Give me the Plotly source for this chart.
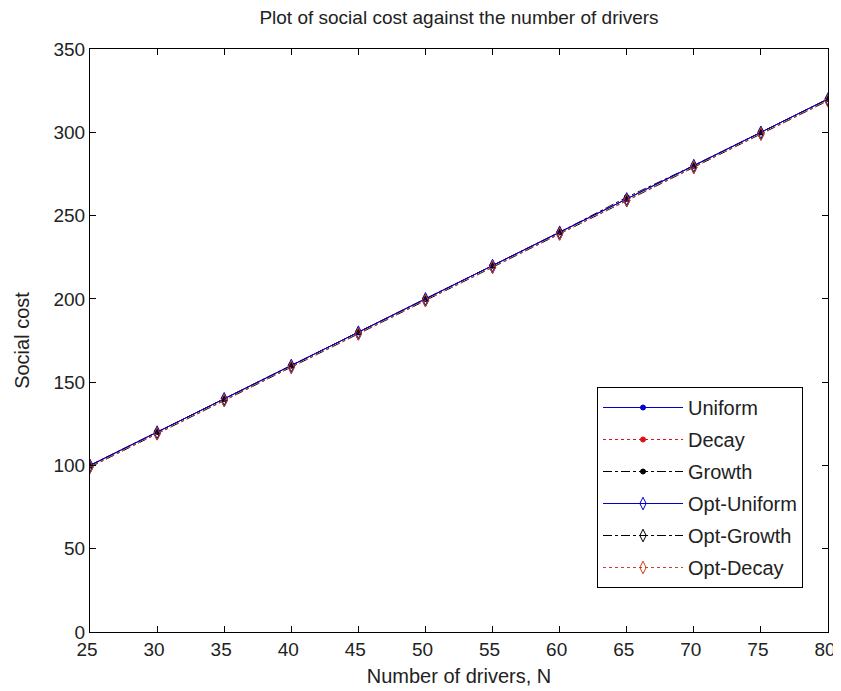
import plotly.graph_objects as go

N = [25, 30, 35, 40, 45, 50, 55, 60, 65, 70, 75, 80]
uniform = [100, 120, 140, 160, 180, 200, 220, 240, 260, 280, 300, 320]
decay = [100, 120, 140, 160, 180, 200, 220, 240, 260, 280, 300, 320]
growth = [100, 120, 140, 160, 180, 200, 220, 240, 261, 280, 300, 320]
opt_uniform = [100, 120, 140, 160, 180, 200, 220, 240, 260, 280, 300, 320]
opt_growth = [99, 119, 139, 159, 179, 199, 219, 239, 259, 279, 299, 319]
opt_decay = [99, 119, 139, 159, 179, 199, 219, 239, 259, 279, 299, 319]

x_ticks = [25, 30, 35, 40, 45, 50, 55, 60, 65, 70, 75, 80]
y_ticks = [0, 50, 100, 150, 200, 250, 300, 350]

BLUE = "#0000cc"
RED = "#e01010"
BLACK = "#000000"
ORANGE = "#d04020"

series = [
    ("Uniform", uniform, BLUE, "solid", "circle", 5),
    ("Decay", decay, RED, "dot", "circle", 5),
    ("Growth", growth, BLACK, "dashdot", "circle", 5),
    ("Opt-Uniform", opt_uniform, BLUE, "solid", "diamond-tall-open", 9),
    ("Opt-Growth", opt_growth, BLACK, "dashdot", "diamond-tall-open", 9),
    ("Opt-Decay", opt_decay, ORANGE, "dot", "diamond-tall-open", 9),
]

fig = go.Figure()
for name, ys, col, dash, sym, size in series:
    fig.add_trace(go.Scatter(
        x=N, y=ys, name=name, mode="lines+markers", legendgroup=name,
        line=dict(color=col, dash=dash, width=1),
        marker=dict(symbol=sym, size=size, color=col, line=dict(color=col, width=1)),
    ))

font = "Liberation Sans, Arial, sans-serif"
W, H = 833, 683
fig.update_layout(
    width=W, height=H,
    margin=dict(l=82, r=13, t=41, b=59),
    paper_bgcolor="white", plot_bgcolor="white",
    font=dict(family=font, color="#222", size=20),
    title=dict(text="Plot of social cost against the number of drivers",
               x=(82 + 369) / W, xanchor="center", y=1 - 9 / H, yanchor="middle",
               font=dict(size=19, family=font, color="#222")),
    showlegend=True,
    legend=dict(x=(589 - 82) / 738, y=(624 - 379) / 583, xanchor="left", yanchor="top",
                bgcolor="white", bordercolor="black", borderwidth=1,
                font=dict(size=20, family=font, color="#222"),
                tracegroupgap=3, itemwidth=80),
)
fig.update_xaxes(range=[25, 80], tickvals=x_ticks, ticks="inside", ticklen=6,
                 tickcolor="black", showline=True, linecolor="black", linewidth=1,
                 mirror="ticks", showgrid=False, zeroline=False, automargin=False,
                 ticklabelshift=-3,
                 tickfont=dict(size=19, family=font, color="#222"),
                 title=dict(text="Number of drivers, N", font=dict(size=20, family=font, color="#222"), standoff=10))
fig.update_yaxes(range=[0, 350], tickvals=y_ticks, ticks="inside", ticklen=6,
                 tickcolor="black", showline=True, linecolor="black", linewidth=1,
                 mirror="ticks", showgrid=False, zeroline=False, automargin=False,
                 tickfont=dict(size=19, family=font, color="#222"),
                 title=dict(text="Social cost", font=dict(size=20, family=font, color="#222"), standoff=18))

fig.write_html("out.html")
